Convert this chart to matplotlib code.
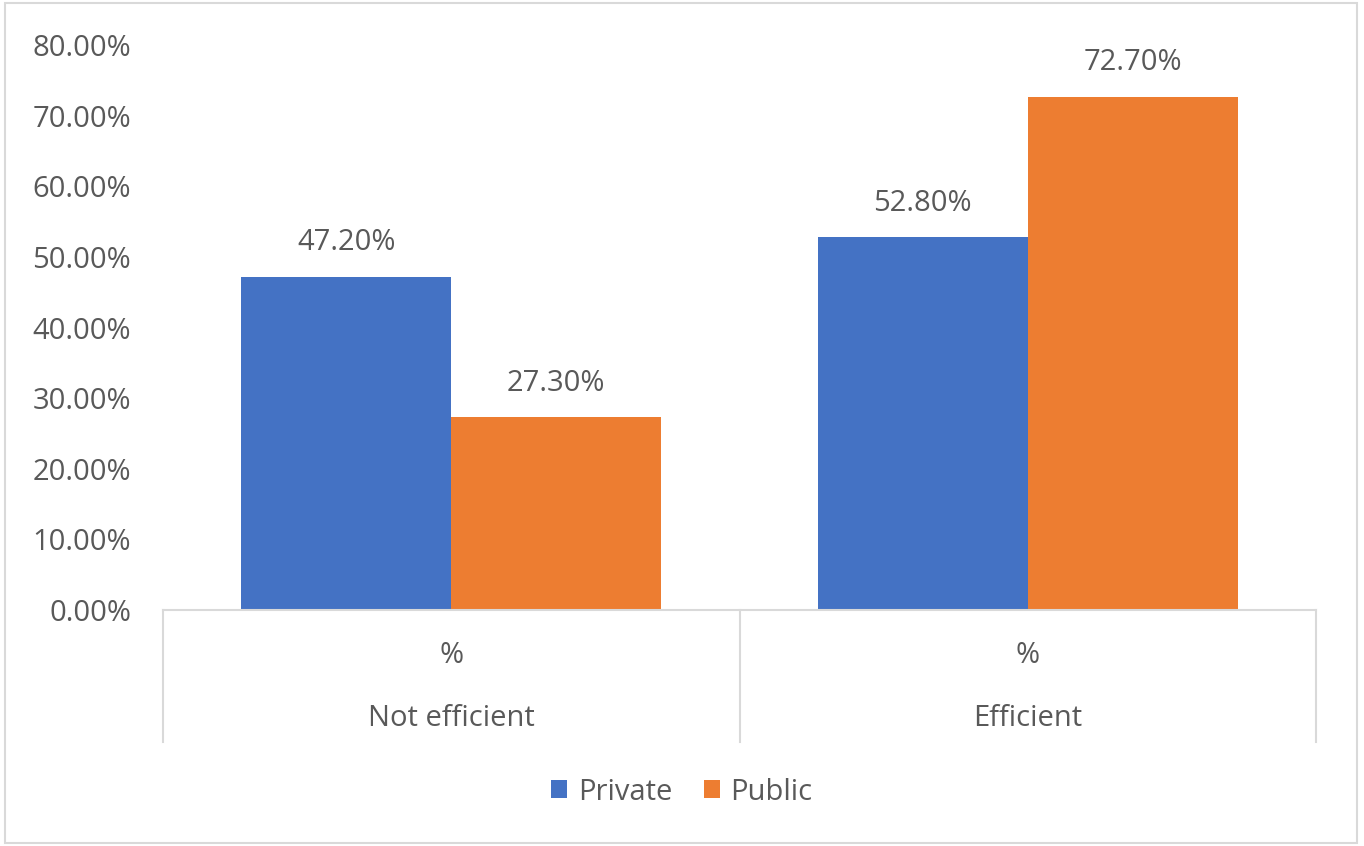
import numpy as np
import matplotlib
matplotlib.use('Agg')
import matplotlib.pyplot as plt
from matplotlib.patches import Rectangle, Patch
from matplotlib.lines import Line2D

categories = ['Not efficient', 'Efficient']
sub_labels = ['%', '%']
series_names = ['Private', 'Public']
private_vals = [0.472, 0.528]
public_vals = [0.273, 0.727]
colors = ['#4472C4', '#ED7D31']
y_ticks = [0.0, 0.1, 0.2, 0.3, 0.4, 0.5, 0.6, 0.7, 0.8]

text_color = '#595959'
line_color = '#D9D9D9'
fs = 21
plt.rcParams['font.family'] = ['Open Sans', 'DejaVu Sans']

W, H = 1364, 846
fig = plt.figure(figsize=(W / 100, H / 100), dpi=100)
ax = fig.add_axes([163 / W, 1 - 610 / H, (1316 - 163) / W, (610 - 45) / H])

x = np.arange(len(categories))
bw = 0.364
for k, (vals, name) in enumerate(zip([private_vals, public_vals], series_names)):
    xs = x + (k - 0.5) * bw
    ax.bar(xs, vals, width=bw, color=colors[k], label=name)
    for xi, v in zip(xs, vals):
        ax.annotate(f'{v * 100:.2f}%', xy=(xi, v), xytext=(0, 24.5),
                    textcoords='offset points', ha='center', va='center',
                    fontsize=fs, color=text_color)

ax.set_xlim(-0.5, len(categories) - 0.5)
ax.set_ylim(0, 0.8)
ax.set_yticks(y_ticks)
ax.set_yticklabels([f'{t * 100:.2f}%' for t in y_ticks], fontsize=fs, color=text_color)
ax.tick_params(axis='y', length=0, pad=23)
ax.set_xticks([])
for s in ['left', 'right', 'top']:
    ax.spines[s].set_visible(False)
ax.spines['bottom'].set_color(line_color)
ax.spines['bottom'].set_linewidth(1.5)

# two-level category axis
trans = ax.get_xaxis_transform()
y_low = (610 - 742) / 565
for xb in np.arange(-0.5, len(categories), 1.0):
    ax.add_line(Line2D([xb, xb], [0, y_low], transform=trans, color=line_color,
                       lw=1.5, clip_on=False))
for xi, cat, sub in zip(x, categories, sub_labels):
    ax.text(xi, (610 - 655) / 565, sub, transform=trans, ha='center', va='center',
            fontsize=fs, color=text_color)
    ax.text(xi, (610 - 718) / 565, cat, transform=trans, ha='center', va='center',
            fontsize=fs, color=text_color)

handles = [Patch(facecolor=c, label=n) for c, n in zip(colors, series_names)]
fig.legend(handles=handles, loc='center', bbox_to_anchor=(0.5, 1 - 792 / H), ncol=2,
           frameon=False, fontsize=fs, labelcolor=text_color, handlelength=0.55,
           handleheight=0.55, handletextpad=0.35, columnspacing=1.1)

fig.patches.append(Rectangle((5 / W, 3 / H), (1357 - 5) / W, (843 - 3) / H,
                             transform=fig.transFigure, fill=False,
                             edgecolor=line_color, lw=1.5))

fig.savefig('out.png', dpi=100)
